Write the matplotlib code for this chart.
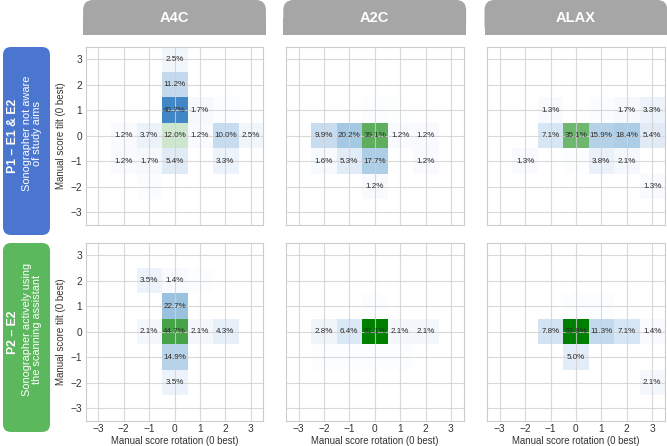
import numpy as np
import matplotlib
matplotlib.use("Agg")
import matplotlib.pyplot as plt
from matplotlib.colors import LinearSegmentedColormap, Normalize
from matplotlib.patches import FancyBboxPatch, Rectangle

plt.rcParams['font.family'] = ['Liberation Sans', 'DejaVu Sans']

# ---------------- data ----------------
views = ["A4C", "A2C", "ALAX"]
row_titles = ["P1 \u2013 E1 & E2", "P2 \u2013 E2"]
row_subtitles = ["Sonographer not aware\nof study aims",
                 "Sonographer actively using\nthe scanning assistant"]
ticks = [-3, -2, -1, 0, 1, 2, 3]
xlabel = "Manual score rotation (0 best)"
ylabel = "Manual score tilt (0 best)"

# (rotation, tilt, percent)
p1_a4c_rot  = [0, 0, 0, 1, -2, -1, 0, 1, 2, 3, -2, -1, 0, 2, -1, 2]
p1_a4c_tilt = [3, 2, 1, 1, 0, 0, 0, 0, 0, 0, -1, -1, -1, -1, -2, 1]
p1_a4c_val  = [2.5, 11.2, 40.7, 1.7, 1.2, 3.7, 12.0, 1.2, 10.0, 2.5, 1.2, 1.7, 5.4, 3.3, 0.8, 0.5]

p1_a2c_rot  = [-2, -1, 0, 1, 2, -2, -1, 0, 2, 0, 0, 1]
p1_a2c_tilt = [0, 0, 0, 0, 0, -1, -1, -1, -1, -2, 1, 1]
p1_a2c_val  = [9.9, 20.2, 39.1, 1.2, 1.2, 1.6, 5.3, 17.7, 1.2, 1.2, 0.5, 0.4]

p1_alax_rot  = [-1, 2, 3, -1, 0, 1, 2, 3, -2, 1, 2, 3, 1, 0]
p1_alax_tilt = [1, 1, 1, 0, 0, 0, 0, 0, -1, -1, -1, -2, 1, -1]
p1_alax_val  = [1.3, 1.7, 3.3, 7.1, 35.1, 15.9, 18.4, 5.4, 1.3, 3.8, 2.1, 1.3, 0.8, 0.6]

p2_a4c_rot  = [-1, 0, 0, -1, 0, 1, 2, 0, 0, 1]
p2_a4c_tilt = [2, 2, 1, 0, 0, 0, 0, -1, -2, 2]
p2_a4c_val  = [3.5, 1.4, 22.7, 2.1, 44.7, 2.1, 4.3, 14.9, 3.5, 0.6]

p2_a2c_rot  = [-2, -1, 0, 1, 2, -2, 0, -1, 0, 1]
p2_a2c_tilt = [0, 0, 0, 0, 0, -1, -1, -1, 1, -1]
p2_a2c_val  = [2.8, 6.4, 81.1, 2.1, 2.1, 0.7, 0.7, 0.5, 0.5, 0.5]

p2_alax_rot  = [-1, 0, 1, 2, 3, 0, 3, 0, 1]
p2_alax_tilt = [0, 0, 0, 0, 0, -1, -2, 1, 1]
p2_alax_val  = [7.8, 63.8, 11.3, 7.1, 1.4, 5.0, 2.1, 0.7, 0.7]

panels = [
    [(p1_a4c_rot, p1_a4c_tilt, p1_a4c_val),
     (p1_a2c_rot, p1_a2c_tilt, p1_a2c_val),
     (p1_alax_rot, p1_alax_tilt, p1_alax_val)],
    [(p2_a4c_rot, p2_a4c_tilt, p2_a4c_val),
     (p2_a2c_rot, p2_a2c_tilt, p2_a2c_val),
     (p2_alax_rot, p2_alax_tilt, p2_alax_val)],
]

# ---------------- styling ----------------
W, H = 667, 446
fig = plt.figure(figsize=(W / 100, H / 100), dpi=100)

blue_cmap = LinearSegmentedColormap.from_list(
    "wb", [(0.0, "#ffffff"), (0.165, "#c8dcf0"), (0.337, "#a6cae3"),
           (0.678, "#4287c6"), (1.0, "#1a5a9e")])
green_cmap = LinearSegmentedColormap.from_list("wg", ["#ffffff", "#008000"])
bnorm = Normalize(0, 60)
gnorm = Normalize(0, 62)

col_left_px = [85.6, 285.8, 487.0]
ax_w_px = 177.8
row_top_px = [46.6, 242.5]
ax_h_px = 178.5

grid_col = "#d0d0d0"
text_col = "#333333"

def px2fig(x, y):
    return x / W, 1 - y / H

for r in range(2):
    for c in range(3):
        rot, tilt, val = panels[r][c]
        l = col_left_px[c] / W
        b = 1 - (row_top_px[r] + ax_h_px) / H
        ax = fig.add_axes([l, b, ax_w_px / W, ax_h_px / H])
        grid = np.zeros((7, 7))
        for x, y, v in zip(rot, tilt, val):
            grid[y + 3, x + 3] = v
        centre = np.zeros_like(grid, dtype=bool)
        centre[3, 3] = True
        off = np.ma.masked_where((grid == 0) | centre, grid)
        cen = np.ma.masked_where(~centre | (grid == 0), grid)
        ext = (-3.5, 3.5, -3.5, 3.5)
        ax.imshow(off, cmap=blue_cmap, norm=bnorm, origin="lower",
                  extent=ext, interpolation="nearest", aspect="auto", zorder=1)
        ax.imshow(cen, cmap=green_cmap, norm=gnorm, origin="lower",
                  extent=ext, interpolation="nearest", aspect="auto", zorder=1)
        for x, y, v in zip(rot, tilt, val):
            if v >= 1.0:
                ax.text(x, y, f"{v:.1f}%", ha="center", va="center",
                        fontsize=5.8, color="#2a2a2a", zorder=4)
        ax.set_xlim(-3.5, 3.5)
        ax.set_ylim(-3.5, 3.5)
        ax.set_xticks(ticks)
        ax.set_yticks(ticks)
        ax.set_axisbelow(False)
        ax.grid(True, color=grid_col, lw=0.8, alpha=0.8, zorder=2)
        ax.tick_params(length=0, labelsize=7.3, colors=text_col, pad=2.5)
        for s in ax.spines.values():
            s.set_color("#cccccc")
            s.set_linewidth(0.8)
        if c == 0:
            ax.set_ylabel(ylabel, fontsize=7, color=text_col, labelpad=3)
        else:
            ax.tick_params(labelleft=False)
        if r == 1:
            ax.set_xlabel(xlabel, fontsize=6.9, color=text_col, labelpad=1)
        else:
            ax.tick_params(labelbottom=False)

# ---------------- column headers ----------------
for c, name in enumerate(views):
    x0 = col_left_px[c] - 2.5
    w = ax_w_px + 5
    x0f, _ = px2fig(x0, 0)
    wf = w / W
    y_top = 0.0
    y_bot = 35.0
    _, ybf = px2fig(0, y_bot)
    hf = (y_bot - y_top) / H
    box = FancyBboxPatch((x0f, ybf), wf, hf,
                         boxstyle="round,pad=0,rounding_size=0.015",
                         transform=fig.transFigure, fc="#a6a6a6", ec="none",
                         mutation_aspect=W / H)
    fig.patches.append(box)
    fig.patches.append(Rectangle((x0f, ybf), wf, hf * 0.5,
                                 transform=fig.transFigure, fc="#a6a6a6", ec="none"))
    fig.text(x0f + wf / 2, ybf + hf / 2, name, ha="center", va="center",
             color="white", fontsize=10.5, fontweight="bold")

# ---------------- row labels ----------------
row_boxes = [(47, 235, "#4a76d0"), (243, 432, "#5cb85c")]
for r, (yt, yb, col) in enumerate(row_boxes):
    x0f, ybf = px2fig(3, yb)
    wf = 47 / W
    hf = (yb - yt) / H
    box = FancyBboxPatch((x0f, ybf), wf, hf,
                         boxstyle="round,pad=0,rounding_size=0.012",
                         transform=fig.transFigure, fc=col, ec="none",
                         mutation_aspect=W / H)
    fig.patches.append(box)
    ymid = (yt + yb) / 2
    fig.text(13 / W, 1 - (ymid - 5) / H, row_titles[r], rotation=90,
             ha="center", va="center", color="white", fontsize=8.8,
             fontweight="bold")
    fig.text(32 / W, 1 - (ymid - 8) / H, row_subtitles[r], rotation=90,
             ha="center", va="center", color="white", fontsize=7.9,
             linespacing=1.05, multialignment="center")

fig.savefig("out.png", dpi=100)
